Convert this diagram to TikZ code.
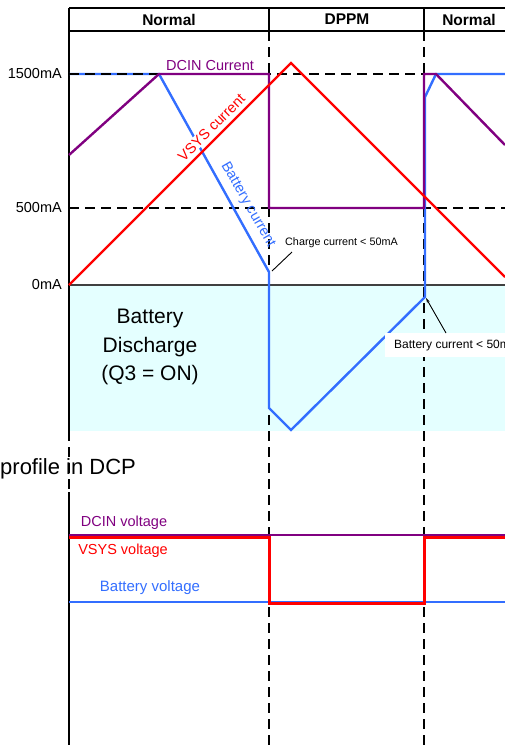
\documentclass[tikz,border=0pt]{standalone}
\usepackage{fontspec}
\setmainfont{Liberation Sans}
\usetikzlibrary{arrows.meta}
\definecolor{cpurple}{RGB}{128,0,128}
\definecolor{cred}{RGB}{255,0,0}
\definecolor{cblue}{RGB}{51,110,255}
\definecolor{ccyan}{RGB}{228,255,255}
\definecolor{cgray}{RGB}{64,64,64}
\begin{document}
\begin{tikzpicture}[x=1pt,y=-1pt,
  grid/.style={black,line width=1.3pt,dash pattern=on 10pt off 6pt},
  frame/.style={black,line width=1.2pt},
  curve/.style={line width=2.4pt,line join=miter},
  lbl/.style={inner sep=0pt,font=\fontsize{14.5}{16}\selectfont},
  axlbl/.style={inner sep=0pt,anchor=east,font=\fontsize{14.5}{16}\selectfont},
  head/.style={inner sep=0pt,font=\fontsize{15.5}{17}\selectfont\bfseries},
  note/.style={inner sep=0pt,font=\fontsize{10.8}{12}\selectfont},
  big/.style={inner sep=0pt,font=\fontsize{21}{28.5}\selectfont,align=center}]
\useasboundingbox (0,0) rectangle (505,745);
% background region
\fill[ccyan] (69,285) rectangle (505,431);
% grid
\draw[grid] (69,74) -- (505,74);
\draw[grid] (69,208) -- (505,208);
\draw[grid] (269,31) -- (269,745);
\draw[grid] (424,31) -- (424,745);
\draw[grid] (69,431) -- (69,492);
% frame
\draw[frame] (69,8) -- (505,8);
\draw[frame] (69,31) -- (505,31);
\draw[frame] (269,8) -- (269,31);
\draw[frame] (424,8) -- (424,31);
\draw[frame] (69,8) -- (69,431);
\draw[frame] (69,492) -- (69,745);
\draw[cgray,line width=1.3pt] (69,285) -- (505,285);
% headers
\node[head] (h1) at (169,19.5) {Normal};
\node[head] (h2) at (347,19.5) {DPPM};
\node[head] (h3) at (469,19.5) {Normal};
% axis labels
\node[axlbl] (l1500) at (62,74) {1500mA};
\node[axlbl] (l500) at (62,208) {500mA};
\node[axlbl] (l0) at (62,285) {0mA};
% coordinates
\coordinate (b0) at (69,74);
\coordinate (b1) at (159,74);
\coordinate (b2) at (269,272);
\coordinate (b3) at (269,408);
\coordinate (b4) at (291,430);
\coordinate (b5) at (425,297);
\coordinate (b6) at (425,97);
\coordinate (b7) at (436,74);
\coordinate (b8) at (505,74);
\coordinate (p0) at (69,155);
\coordinate (p1) at (159,74);
\coordinate (p2) at (269,74);
\coordinate (p3) at (269,208);
\coordinate (p4) at (424,208);
\coordinate (p5) at (424,74);
\coordinate (p6) at (436,74);
\coordinate (p7) at (505,145);
\coordinate (r0) at (69,285);
\coordinate (r1) at (291,63);
\coordinate (r2) at (505,277);
% battery current
\draw[curve,cblue] (b0) -- (b1) -- (b2) -- (b3) -- (b4) -- (b5) -- (b6) -- (b7) -- (b8);
\draw[grid] (b0) -- (b1);
% labels on curves
\node[lbl,text=cred,fill=white,inner sep=1pt,rotate=45] (vsys) at (211.5,127.5) {VSYS current};
\node[lbl,text=cblue,rotate=-60] (batc) at (248,205) {Battery current};
% DCIN current
\draw[curve,cpurple] (p0) -- (p1) -- (p2) -- (p3) -- (p4) -- (p5) -- (p6) -- (p7);
% VSYS current
\draw[curve,cred] (r0) -- (r1) -- (r2);
\node[lbl,text=cpurple] (dcin) at (210,66) {DCIN Current};
% annotations
\node[note,anchor=west] (cc) at (285,243) {Charge current < 50mA};
\coordinate (ccl) at (292,252);
\coordinate (ccp) at (272,271);
\draw[black,line width=0.9pt] (ccl) -- (ccp);
\node[note,anchor=north west,fill=white,minimum height=24pt,inner xsep=9pt,font=\fontsize{12}{13}\selectfont] (bc) at (385,333) {Battery current < 50mA};
\coordinate (bct) at (446,333);
\coordinate (bcp) at (426,298);
\draw[black,line width=0.9pt,-{Stealth[length=5pt,width=3pt]}] (bct) -- (bcp);
% discharge text
\node[big] (dis) at (150,347) {Battery\\Discharge\\(Q3 = ON)};
% voltage profile
\node[inner sep=0pt,anchor=west,font=\fontsize{22}{24}\selectfont] (prof) at (0,469) {profile in DCP};
\draw[cpurple,line width=2pt] (69,535) -- (505,535);
\draw[cblue,line width=2.2pt] (69,602) -- (505,602);
\draw[cred,line width=3pt] (69,537.5) -- (269,537.5) -- (269,603) -- (424,603) -- (424,537.5) -- (505,537.5);
\node[lbl,text=cpurple] (dv) at (124,523) {DCIN voltage};
\node[lbl,text=cred] (vv) at (123,551) {VSYS voltage};
\node[lbl,text=cblue,font=\fontsize{15}{16}\selectfont] (bv) at (150,588) {Battery voltage};
\end{tikzpicture}
\end{document}
